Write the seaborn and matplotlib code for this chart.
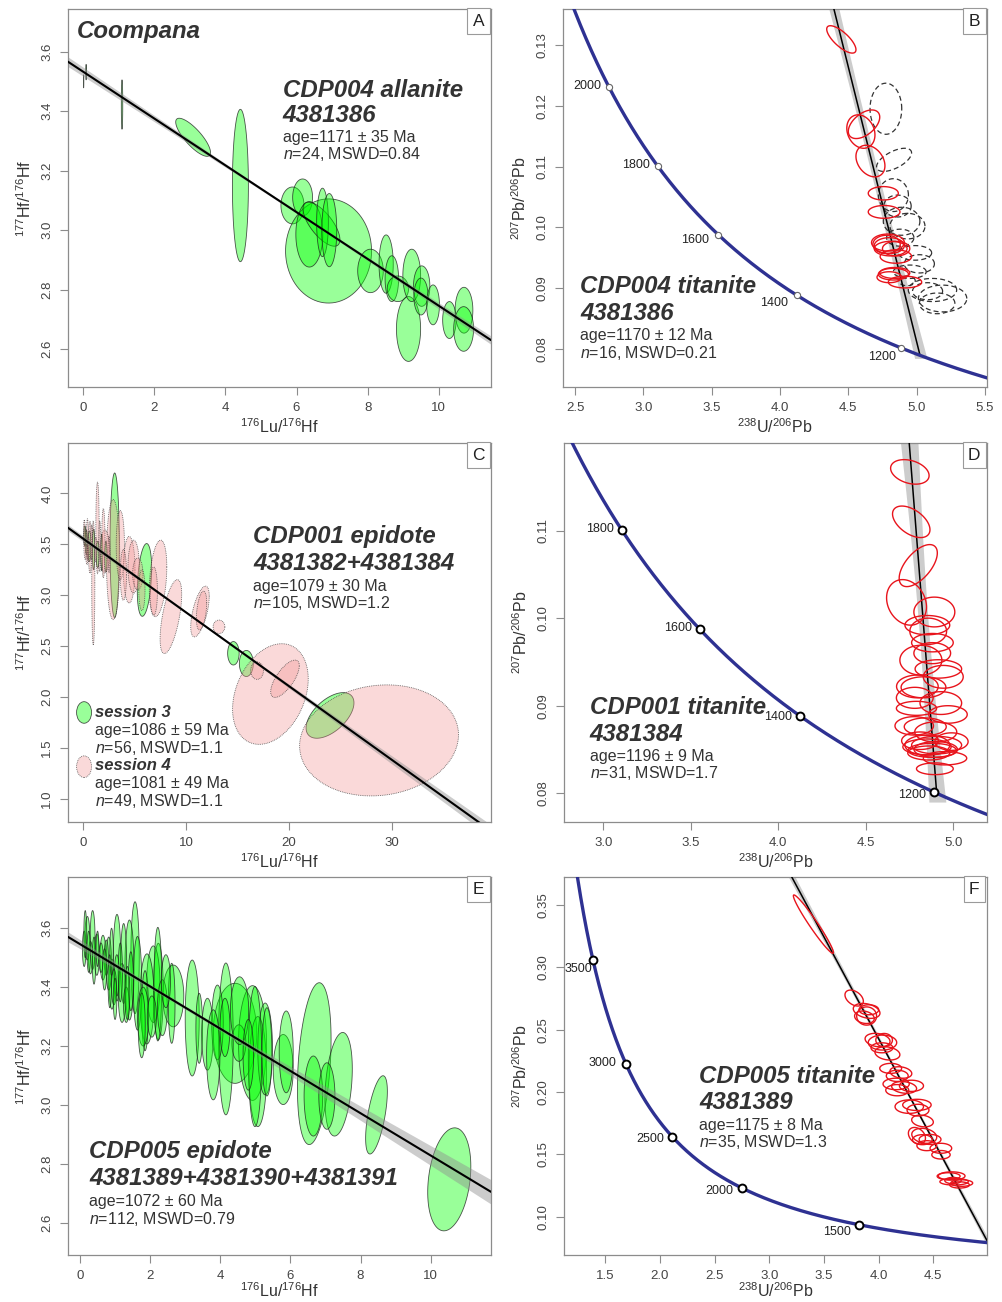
import numpy as np
import matplotlib
matplotlib.use('Agg')
import matplotlib.pyplot as plt
from matplotlib.patches import Polygon, Ellipse
from matplotlib.ticker import FormatStrFormatter
import seaborn as sns

sns.set_theme(style='white')
plt.rcParams['font.family'] = ['Liberation Sans', 'DejaVu Sans']
plt.rcParams['mathtext.fontset'] = 'custom'
plt.rcParams['mathtext.rm'] = 'Liberation Sans'
plt.rcParams['mathtext.it'] = 'Liberation Sans:italic'
plt.rcParams['mathtext.bf'] = 'Liberation Sans:bold'

# ---------------- DATA ----------------
# Panel A: CDP004 allanite Lu-Hf isochron (ellipse centre, half-width x, half-height y, correlation)
A_X = [0.08, 0.01, 1.09, 3.09, 4.42, 5.885, 6.17, 6.90, 6.36, 6.70, 6.73, 6.92,
       8.08, 8.52, 8.68, 8.85, 9.15, 9.24, 9.52, 9.50, 9.84, 10.30, 10.71, 10.70]
A_Y = [3.531, 3.500, 3.422, 3.312, 3.150, 3.083, 3.110, 2.930, 2.986, 3.020, 3.026, 3.000,
       2.863, 2.886, 2.837, 2.803, 2.668, 2.848, 2.812, 2.777, 2.749, 2.698, 2.731, 2.668]
A_SX = [0.012, 0.005, 0.02, 0.49, 0.225, 0.325, 0.28, 1.21, 0.38, 0.52, 0.165, 0.21,
        0.36, 0.20, 0.19, 0.30, 0.34, 0.25, 0.23, 0.20, 0.18, 0.19, 0.25, 0.28]
A_SY = [0.026, 0.022, 0.083, 0.064, 0.256, 0.062, 0.062, 0.175, 0.11, 0.074, 0.115, 0.123,
        0.073, 0.098, 0.077, 0.043, 0.109, 0.088, 0.068, 0.062, 0.067, 0.062, 0.077, 0.075]
A_RHO = [0, 0, 0, -0.8, 0, 0, 0, 0, 0, -0.7, 0, 0,
         0, 0, 0, 0, 0, 0, 0, 0, 0, 0, 0, 0]
A_FIT = dict(b0=3.532, b1=-0.0786, s0=0.004, s1=0.00244, xm=6.0)

# Panel B: CDP004 titanite Tera-Wasserburg
B_RX = [4.449, 4.615, 4.592, 4.662, 4.756, 4.762, 4.79, 4.80, 4.81, 4.78, 4.848, 4.83, 4.84, 4.915, 4.85, 4.80]
B_RY = [0.1309, 0.11695, 0.11575, 0.1109, 0.1056, 0.10254, 0.0975, 0.0970, 0.0965, 0.0972,
        0.0952, 0.0923, 0.0925, 0.0910, 0.0965, 0.0918]
B_RSX = [0.107, 0.115, 0.103, 0.106, 0.11, 0.116, 0.12, 0.11, 0.12, 0.10, 0.115, 0.11, 0.11, 0.122, 0.10, 0.09]
B_RSY = [0.00225, 0.00235, 0.00275, 0.0026, 0.0011, 0.00105, 0.0014, 0.0013, 0.0012, 0.0015,
         0.0011, 0.00096, 0.0009, 0.00096, 0.0012, 0.0009]
B_RRHO = [-0.75, 0.5, -0.2, -0.3, 0, 0, 0, 0, 0, 0, 0, 0, 0, 0, 0, 0]
B_DX = [4.775, 4.835, 4.83, 4.89, 4.933, 4.988, 4.88, 4.95, 5.116, 5.19, 5.15, 5.08, 4.93, 5.02, 4.86]
B_DY = [0.1195, 0.1111, 0.1053, 0.101, 0.1002, 0.0958, 0.0983, 0.0927, 0.0897, 0.0883, 0.0875, 0.0895,
        0.0912, 0.0940, 0.1035]
B_DSX = [0.116, 0.128, 0.11, 0.134, 0.128, 0.122, 0.10, 0.12, 0.177, 0.177, 0.13, 0.11, 0.06, 0.11, 0.10]
B_DSY = [0.0042, 0.0019, 0.0027, 0.0023, 0.0021, 0.0012, 0.0014, 0.0011, 0.0019, 0.0022, 0.0017, 0.0014,
         0.0008, 0.0015, 0.0018]
B_DRHO = [0, 0.6, 0, 0, 0, 0, 0, 0, 0, 0, 0, 0, 0, 0, 0]
B_FIT = dict(y0=0.533, age=1170, a=0.026, b=1.1, ym=0.112)
B_AGES = [2000, 1800, 1600, 1400, 1200]
B_LOFF = [(-8, 1), (-8, 1), (-9, -5), (-9, -8), (-5, -9)]

# Panel C: CDP001 epidote, session 3 (green) and session 4 (pink)
C3_X = [3.05, 5.95, 14.6, 15.86, 24.0, 0.3, 0.6, 1.0, 1.4, 1.8, 2.2, 0.15]
C3_Y = [3.49, 3.15, 2.43, 2.33, 1.82, 3.52, 3.48, 3.45, 3.40, 3.42, 3.38, 3.58]
C3_SX = [0.45, 0.70, 0.56, 0.68, 2.33, 0.12, 0.15, 0.12, 0.15, 0.10, 0.12, 0.10]
C3_SY = [0.71, 0.357, 0.115, 0.128, 0.224, 0.12, 0.15, 0.2, 0.13, 0.18, 0.15, 0.10]
C3_RHO = [0, 0.3, 0, 0, 0.55, 0, 0, 0, 0, 0, 0, 0]
C4_X = [28.77, 18.2, 19.62, 16.9, 13.2, 11.35, 11.5, 8.52, 7.27, 6.85, 4.46, 4.9, 5.3, 0.97, 1.38,
        2.9, 3.6, 2.1, 1.95, 0.65, 0.2, 0.4, 0.5, 0.8, 1.2, 1.6, 2.5, 3.9, 5.7, 0.1, 0.35]
C4_Y = [1.575, 2.03, 2.18, 2.26, 2.69, 2.84, 2.85, 2.79, 3.165, 3.04, 3.25, 3.28, 3.21, 3.12, 3.66,
        3.35, 3.49, 3.43, 3.51, 3.47, 3.50, 3.55, 3.45, 3.52, 3.45, 3.48, 3.40, 3.20, 3.05, 3.62, 3.40]
C4_SX = [7.73, 3.68, 1.39, 0.62, 0.57, 0.9, 0.5, 1.05, 0.85, 0.36, 0.57, 0.55, 0.5, 0.15, 0.16,
         0.65, 0.4, 0.45, 0.16, 0.16, 0.15, 0.1, 0.12, 0.1, 0.12, 0.1, 0.1, 0.3, 0.3, 0.08, 0.1]
C4_SY = [0.545, 0.494, 0.183, 0.086, 0.066, 0.249, 0.19, 0.363, 0.376, 0.237, 0.327, 0.26, 0.155, 0.61, 0.45,
         0.59, 0.34, 0.21, 0.34, 0.255, 0.15, 0.2, 0.12, 0.17, 0.12, 0.25, 0.18, 0.25, 0.2, 0.12, 0.1]
C4_RHO = [0.1, 0.3, 0.7, 0, 0, 0.6, 0.4, 0.6, 0.3, 0, 0, 0, 0, 0, 0,
          0, 0, 0, 0, 0, 0, 0, 0, 0, 0, 0, 0, 0, 0, 0, 0]
C_FIT = dict(b0=3.554, b1=-0.0723, s0=0.01, s1=0.00213, xm=12.0)

# Panel D: CDP001 titanite
D_X = [4.752, 4.76, 4.80, 4.733, 4.892, 4.852, 4.857, 4.881, 4.815, 4.915, 4.943, 4.795, 4.78, 4.929, 4.79,
       4.777, 4.90, 4.81, 4.852, 4.905, 4.90, 4.88, 4.85, 4.953, 4.895, 4.84, 4.83, 4.97, 4.86, 4.88, 4.99]
D_Y = [0.1167, 0.1110, 0.1060, 0.1018, 0.1007, 0.0992, 0.0985, 0.0972, 0.0952, 0.0942, 0.0933, 0.0922,
       0.0909, 0.0903, 0.0897, 0.0877, 0.0870, 0.0860, 0.0855, 0.0855, 0.0850, 0.0849, 0.0853, 0.0840,
       0.0828, 0.0876, 0.0921, 0.0890, 0.0846, 0.0960, 0.0859]
D_SX = [0.11, 0.107, 0.109, 0.114, 0.117, 0.128, 0.105, 0.119, 0.12, 0.133, 0.114, 0.119, 0.105, 0.119,
        0.115, 0.11, 0.12, 0.105, 0.128, 0.143, 0.124, 0.138, 0.138, 0.124, 0.105, 0.12, 0.128, 0.11,
        0.12, 0.105, 0.095]
D_SY = [0.0014, 0.0018, 0.0024, 0.0026, 0.0017, 0.0011, 0.0015, 0.00105, 0.0017, 0.00105, 0.0013,
        0.0013, 0.0012, 0.0013, 0.0008, 0.00105, 0.00115, 0.001, 0.00115, 0.001, 0.0009, 0.0008,
        0.0009, 0.00076, 0.00067, 0.001, 0.0012, 0.001, 0.0008, 0.0012, 0.001]
D_RHO = [-0.3, -0.5, 0.6, -0.2, 0, 0, 0, 0, 0, 0, 0, 0, 0, 0, 0, 0,
         0, 0, 0, 0, 0, 0, 0, 0, 0, 0, 0, 0, 0, 0, 0]
D_FIT = dict(y0=1.330, age=1196, a=0.028, b=1.97, ym=0.099)
D_AGES = [1800, 1600, 1400, 1200]
D_LOFF = [(-8, 1), (-7, 1), (-8, -1), (-7, -3)]

# Panel E: CDP005 epidote
E_X = [10.53, 8.455, 6.68, 7.375, 6.655, 7.04, 5.795, 5.88, 4.42, 4.92,
       5.07, 5.28, 5.33, 4.53, 4.16, 4.99, 3.20, 3.40, 3.635, 3.92,
       4.135, 2.66, 2.615, 2.235, 2.09, 2.22, 1.91, 1.855, 1.57, 1.41,
       1.64, 1.45, 1.245, 1.055, 1.05, 0.91, 0.82, 0.655, 0.48, 0.36,
       0.21, 0.12, 0.30, 0.60, 0.75, 1.20, 0.97, 1.80, 1.76, 2.05,
       2.35, 2.45, 1.32, 4.55, 3.80, 4.80, 0.15, 0.25, 0.40, 0.50,
       0.70, 0.85, 1.15, 1.35, 1.00, 0.90]
E_Y = [2.747, 2.966, 3.14, 3.07, 3.03, 3.03, 3.12, 3.18, 3.243, 3.21,
       3.113, 3.19, 3.18, 3.21, 3.224, 3.164, 3.295, 3.26, 3.24, 3.28,
       3.263, 3.37, 3.345, 3.385, 3.41, 3.41, 3.36, 3.32, 3.50, 3.458,
       3.413, 3.42, 3.48, 3.50, 3.44, 3.41, 3.48, 3.50, 3.51, 3.56,
       3.566, 3.53, 3.50, 3.50, 3.50, 3.38, 3.40, 3.30, 3.27, 3.30,
       3.33, 3.42, 3.34, 3.32, 3.17, 3.17, 3.58, 3.52, 3.49, 3.53,
       3.46, 3.42, 3.45, 3.38, 3.36, 3.52]
E_SX = [0.615, 0.31, 0.48, 0.39, 0.265, 0.23, 0.285, 0.20, 0.62, 0.40,
        0.25, 0.21, 0.14, 0.20, 0.21, 0.19, 0.20, 0.095, 0.165, 0.165,
        0.14, 0.30, 0.095, 0.14, 0.19, 0.11, 0.20, 0.095, 0.12, 0.13,
        0.12, 0.07, 0.085, 0.105, 0.07, 0.08, 0.08, 0.085, 0.07, 0.07,
        0.07, 0.05, 0.06, 0.06, 0.06, 0.11, 0.07, 0.16, 0.10, 0.13,
        0.14, 0.13, 0.08, 0.26, 0.19, 0.15, 0.04, 0.05, 0.05, 0.04,
        0.06, 0.05, 0.06, 0.07, 0.05, 0.05]
E_SY = [0.175, 0.133, 0.275, 0.176, 0.136, 0.113, 0.119, 0.139, 0.17, 0.195,
        0.187, 0.156, 0.15, 0.062, 0.258, 0.238, 0.197, 0.119, 0.122, 0.127,
        0.099, 0.105, 0.136, 0.164, 0.13, 0.193, 0.153, 0.136, 0.19, 0.17,
        0.159, 0.10, 0.136, 0.147, 0.07, 0.085, 0.09, 0.076, 0.07, 0.10,
        0.074, 0.06, 0.055, 0.05, 0.06, 0.10, 0.06, 0.10, 0.11, 0.07,
        0.095, 0.09, 0.06, 0.115, 0.153, 0.12, 0.08, 0.07, 0.08, 0.06,
        0.07, 0.09, 0.10, 0.09, 0.07, 0.08]
E_RHO = [0.25, 0.6, 0.3, 0.3] + [0.0] * 62
E_FIT = dict(b0=3.546, b1=-0.0718, s0=0.006, s1=0.0047, xm=3.0)

# Panel F: CDP005 titanite
F_X = [3.403, 3.776, 3.89, 3.89, 3.87, 3.99, 4.035, 4.08, 4.05, 4.11, 4.203, 4.17, 4.233, 4.28, 4.35,
       4.36, 4.401, 4.417, 4.47, 4.569, 4.57, 4.668, 4.69, 4.76, 4.68, 3.91, 4.03, 4.16, 4.35, 4.40,
       4.44, 4.64, 4.74, 4.17, 4.30]
F_Y = [0.3347, 0.2754, 0.2651, 0.2610, 0.2600, 0.2417, 0.2397, 0.2310, 0.2417, 0.2190, 0.2157, 0.2130,
       0.2037, 0.1883, 0.1897, 0.1855, 0.1768, 0.1649, 0.1620, 0.1549, 0.1497, 0.1327, 0.1281, 0.1270,
       0.1290, 0.2660, 0.2355, 0.2065, 0.1650, 0.1618, 0.1570, 0.1325, 0.1255, 0.2015, 0.2050]
F_SX = [0.183, 0.084, 0.122, 0.091, 0.09, 0.114, 0.13, 0.114, 0.076, 0.10, 0.10, 0.10, 0.114, 0.13, 0.13,
        0.10, 0.099, 0.114, 0.10, 0.099, 0.084, 0.122, 0.13, 0.10, 0.075, 0.09, 0.10, 0.12, 0.078, 0.09,
        0.09, 0.105, 0.09, 0.105, 0.11]
F_SY = [0.0234, 0.0064, 0.006, 0.0073, 0.005, 0.0054, 0.006, 0.0053, 0.0053, 0.004, 0.0046, 0.0045,
        0.0047, 0.0054, 0.0045, 0.0047, 0.0047, 0.006, 0.004, 0.004, 0.0034, 0.0033, 0.0027, 0.0026,
        0.0025, 0.004, 0.004, 0.0046, 0.0066, 0.004, 0.004, 0.0028, 0.0025, 0.0045, 0.0045]
F_RHO = [-0.97, -0.4, -0.3, 0, -0.2, -0.2, 0, -0.2, 0, 0, -0.2, 0, -0.2, 0, 0,
         0, -0.2, -0.2, 0, 0, 0, 0, 0, 0, 0, 0, 0, 0, -0.3, 0, 0, 0, 0, 0, 0]
F_FIT = dict(y0=0.896, age=1175, a=0.012, b=0.162, ym=0.20)
F_AGES = [3500, 3000, 2500, 2000, 1500]
F_LOFF = [(-1, -9), (-9, 1), (-8, -2), (-9, -3), (-8, -7)]

# decay constants for the concordia
L238, L235, U85 = 1.55125e-10, 9.8485e-10, 137.818

# ---------------- STYLE ----------------
GREEN_FC = (0.0, 1.0, 0.0, 0.40)
PINK_FC = (0.95, 0.58, 0.58, 0.35)
EDGE = (0.1, 0.1, 0.1, 0.75)
RED = '#e8141c'
NAVY = '#2e3192'
TXT = '#333333'


def tw(t_ma):
    t = np.asarray(t_ma, dtype=float) * 1e6
    e8 = np.exp(L238 * t) - 1
    e5 = np.exp(L235 * t) - 1
    return 1 / e8, e5 / e8 / U85


def ell_pts(cx, cy, sx, sy, rho, n=90):
    th = np.linspace(0, 2 * np.pi, n)
    x = cx + sx * np.cos(th)
    y = cy + sy * (rho * np.cos(th) + np.sqrt(1 - rho ** 2) * np.sin(th))
    return np.column_stack([x, y])


def draw_ellipses(ax, xs, ys, sxs, sys_, rhos, fc, ec, lw, ls='-', z=3):
    for x, y, sx, sy, r in zip(xs, ys, sxs, sys_, rhos):
        ax.add_patch(Polygon(ell_pts(x, y, sx, sy, r), closed=True, facecolor=fc,
                             edgecolor=ec, linewidth=lw, linestyle=ls, zorder=z))


def isochron(ax, fit, xlim):
    xx = np.linspace(xlim[0], xlim[1], 300)
    yy = fit['b0'] + fit['b1'] * xx
    h = np.sqrt(fit['s0'] ** 2 + (fit['s1'] * (xx - fit['xm'])) ** 2)
    ax.fill_between(xx, yy - h, yy + h, color='#8f8f8f', alpha=0.45, lw=0, zorder=5)
    sns.lineplot(x=xx, y=yy, ax=ax, color='black', lw=1.5, zorder=6, sort=False, estimator=None)


def concordia(ax, ages, loffs, ms, mec, mlw):
    tt = np.linspace(800, 4500, 2000)
    cx, cy = tw(tt)
    sns.lineplot(x=cx, y=cy, ax=ax, color=NAVY, lw=2.4, zorder=7, sort=False, estimator=None)
    mx, my = tw(ages)
    sns.scatterplot(x=mx, y=my, ax=ax, s=ms, color='white', edgecolor=mec, linewidth=mlw, zorder=8)
    for a, x, y, (dx, dy) in zip(ages, mx, my, loffs):
        ax.annotate(str(a), (x, y), xytext=(dx, dy), textcoords='offset pixels',
                    ha='right', va='center', fontsize=9, color='#222222', zorder=9)


def discordia(ax, fit, ytop, ylow_off):
    xi, yi = tw(fit['age'])
    yy = np.linspace(yi - ylow_off, ytop, 300)
    xx = xi * (fit['y0'] - yy) / (fit['y0'] - yi)
    w = np.sqrt(fit['a'] ** 2 + (fit['b'] * (yy - fit['ym'])) ** 2)
    ax.fill_betweenx(yy, xx - w, xx + w, color='#8f8f8f', alpha=0.45, lw=0, zorder=2)
    sns.lineplot(x=[float(xi), 0.0], y=[float(yi), fit['y0']], ax=ax, color='black', lw=1.1,
                 zorder=4, sort=False, estimator=None)


def style_axes(ax, xlim, ylim, xticks, yticks, xfmt, yfmt, xlabel, ylabel, letter, xpad=3):
    ax.set_xlim(xlim)
    ax.set_ylim(ylim)
    ax.set_xticks(xticks)
    ax.set_yticks(yticks)
    ax.xaxis.set_major_formatter(FormatStrFormatter(xfmt))
    ax.yaxis.set_major_formatter(FormatStrFormatter(yfmt))
    for s in ax.spines.values():
        s.set_color('#8c8c8c')
        s.set_linewidth(0.9)
        s.set_visible(True)
    ax.tick_params(axis='both', which='major', direction='out', length=5.5, width=0.8,
                   color='#8c8c8c', labelsize=9.5, labelcolor='#444444', pad=5,
                   bottom=True, left=True, top=False, right=False)
    ax.tick_params(axis='y', labelrotation=90)
    plt.setp(ax.get_yticklabels(), va='center')
    ax.set_xlabel(xlabel, fontsize=11.5, color=TXT, labelpad=xpad)
    ax.set_ylabel(ylabel, fontsize=11.5, color=TXT, labelpad=5)
    ax.grid(False)
    ax.set_facecolor('white')
    ax.text(0.970, 0.968, letter, transform=ax.transAxes, ha='center', va='center',
            fontsize=12.5, color='#222222', zorder=20,
            bbox=dict(boxstyle='square,pad=0.32', fc='white', ec='#9a9a9a', lw=0.8))


def put(ax, x, y, s, size, bi=False):
    ax.text(x, y, s, transform=ax.transAxes, fontsize=size, color=TXT,
            fontweight='bold' if bi else 'normal', fontstyle='italic' if bi else 'normal',
            ha='left', va='baseline', zorder=15)


# ---------------- FIGURE ----------------
W, H = 1003, 1302
fig = plt.figure(figsize=(W / 100, H / 100), dpi=100)
fig.patch.set_facecolor('white')


def add_ax(l, t, r, b):
    return fig.add_axes([l / W, 1 - b / H, (r - l) / W, (b - t) / H])


axA = add_ax(68, 9, 491, 387)
axB = add_ax(563, 9, 987, 387)
axC = add_ax(68, 443, 491, 822)
axD = add_ax(564, 443, 987, 822)
axE = add_ax(68, 877, 491, 1255)
axF = add_ax(564, 877, 987, 1255)

XL_HF = r'$^{176}$Lu/$^{176}$Hf'
YL_HF = r'$^{177}$Hf/$^{176}$Hf'
XL_U = r'$^{238}$U/$^{206}$Pb'
YL_U = r'$^{207}$Pb/$^{206}$Pb'
TS = 17.3
IS = 11.5

# ---- A ----
xlimA, ylimA = (-0.43, 11.47), (2.473, 3.743)
draw_ellipses(axA, A_X, A_Y, A_SX, A_SY, A_RHO, GREEN_FC, EDGE, 0.6)
isochron(axA, A_FIT, xlimA)
style_axes(axA, xlimA, ylimA, [0, 2, 4, 6, 8, 10], [2.6, 2.8, 3.0, 3.2, 3.4, 3.6], '%d', '%.1f', XL_HF, YL_HF, 'A')
put(axA, 0.021, 0.923, 'Coompana', TS, True)
put(axA, 0.508, 0.768, 'CDP004 allanite', TS, True)
put(axA, 0.508, 0.700, '4381386', TS, True)
put(axA, 0.508, 0.649, 'age=1171 ± 35 Ma', IS)
put(axA, 0.508, 0.602, r'$n$=24, MSWD=0.84', IS)

# ---- B ----
xlimB, ylimB = (2.412, 5.515), (0.07375, 0.1359)
discordia(axB, B_FIT, ylimB[1] + 0.002, 0.0005)
draw_ellipses(axB, B_DX, B_DY, B_DSX, B_DSY, B_DRHO, 'none', '#333333', 0.9, (0, (4, 2.5)), z=3)
draw_ellipses(axB, B_RX, B_RY, B_RSX, B_RSY, B_RRHO, 'none', RED, 1.0, '-', z=5)
concordia(axB, B_AGES, B_LOFF, 20, '#666666', 0.8)
style_axes(axB, xlimB, ylimB, [2.5, 3.0, 3.5, 4.0, 4.5, 5.0, 5.5], [0.08, 0.09, 0.10, 0.11, 0.12, 0.13],
           '%.1f', '%.2f', XL_U, YL_U, 'B')
put(axB, 0.040, 0.248, 'CDP004 titanite', TS, True)
put(axB, 0.040, 0.177, '4381386', TS, True)
put(axB, 0.040, 0.124, 'age=1170 ± 12 Ma', IS)
put(axB, 0.040, 0.076, r'$n$=16, MSWD=0.21', IS)

# ---- C ----
xlimC, ylimC = (-1.49, 39.66), (0.774, 4.494)
draw_ellipses(axC, C3_X, C3_Y, C3_SX, C3_SY, C3_RHO, GREEN_FC, EDGE, 0.6, '-')
draw_ellipses(axC, C4_X, C4_Y, C4_SX, C4_SY, C4_RHO, PINK_FC, (0.2, 0.2, 0.2, 0.8), 0.6, (0, (1, 1.2)))
isochron(axC, C_FIT, xlimC)
style_axes(axC, xlimC, ylimC, [0, 10, 20, 30], [1.0, 1.5, 2.0, 2.5, 3.0, 3.5, 4.0], '%d', '%.1f', XL_HF, YL_HF, 'C')
put(axC, 0.438, 0.735, 'CDP001 epidote', TS, True)
put(axC, 0.438, 0.666, '4381382+4381384', TS, True)
put(axC, 0.438, 0.610, 'age=1079 ± 30 Ma', IS)
put(axC, 0.438, 0.564, r'$n$=105, MSWD=1.2', IS)
axC.add_patch(Ellipse((0.038, 0.289), 0.0355, 0.057, transform=axC.transAxes, facecolor=GREEN_FC,
                      edgecolor=EDGE, lw=0.6, zorder=15))
axC.add_patch(Ellipse((0.038, 0.146), 0.0355, 0.057, transform=axC.transAxes, facecolor=PINK_FC,
                      edgecolor=(0.2, 0.2, 0.2, 0.8), lw=0.6, ls=(0, (1, 1.2)), zorder=15))
put(axC, 0.065, 0.278, 'session 3', IS + 0.5, True)
put(axC, 0.065, 0.230, 'age=1086 ± 59 Ma', IS)
put(axC, 0.065, 0.183, r'$n$=56, MSWD=1.1', IS)
put(axC, 0.065, 0.137, 'session 4', IS + 0.5, True)
put(axC, 0.065, 0.089, 'age=1081 ± 49 Ma', IS)
put(axC, 0.065, 0.042, r'$n$=49, MSWD=1.1', IS)

# ---- D ----
xlimD, ylimD = (2.775, 5.193), (0.07672, 0.1200)
discordia(axD, D_FIT, ylimD[1] + 0.002, 0.001)
draw_ellipses(axD, D_X, D_Y, D_SX, D_SY, D_RHO, 'none', RED, 1.0, '-', z=5)
concordia(axD, D_AGES, D_LOFF, 32, 'black', 1.4)
style_axes(axD, xlimD, ylimD, [3.0, 3.5, 4.0, 4.5, 5.0], [0.08, 0.09, 0.10, 0.11], '%.1f', '%.2f', XL_U, YL_U, 'D')
put(axD, 0.061, 0.285, 'CDP001 titanite', TS, True)
put(axD, 0.061, 0.214, '4381384', TS, True)
put(axD, 0.061, 0.162, 'age=1196 ± 9 Ma', IS)
put(axD, 0.061, 0.115, r'$n$=31, MSWD=1.7', IS)

# ---- E ----
xlimE, ylimE = (-0.342, 11.72), (2.490, 3.774)
draw_ellipses(axE, E_X, E_Y, E_SX, E_SY, E_RHO, GREEN_FC, EDGE, 0.6)
isochron(axE, E_FIT, xlimE)
style_axes(axE, xlimE, ylimE, [0, 2, 4, 6, 8, 10], [2.6, 2.8, 3.0, 3.2, 3.4, 3.6], '%d', '%.1f', XL_HF, YL_HF, 'E',
           xpad=0)
put(axE, 0.050, 0.256, 'CDP005 epidote', TS, True)
put(axE, 0.050, 0.185, '4381389+4381390+4381391', TS, True)
put(axE, 0.050, 0.130, 'age=1072 ± 60 Ma', IS)
put(axE, 0.050, 0.082, r'$n$=112, MSWD=0.79', IS)

# ---- F ----
xlimF, ylimF = (1.122, 4.991), (0.0693, 0.3725)
discordia(axF, F_FIT, ylimF[1] + 0.01, 0.002)
draw_ellipses(axF, F_X, F_Y, F_SX, F_SY, F_RHO, 'none', RED, 1.0, '-', z=5)
concordia(axF, F_AGES, F_LOFF, 32, 'black', 1.4)
style_axes(axF, xlimF, ylimF, [1.5, 2.0, 2.5, 3.0, 3.5, 4.0, 4.5], [0.10, 0.15, 0.20, 0.25, 0.30, 0.35],
           '%.1f', '%.2f', XL_U, YL_U, 'F', xpad=0)
put(axF, 0.320, 0.454, 'CDP005 titanite', TS, True)
put(axF, 0.320, 0.385, '4381389', TS, True)
put(axF, 0.320, 0.331, 'age=1175 ± 8 Ma', IS)
put(axF, 0.320, 0.285, r'$n$=35, MSWD=1.3', IS)

fig.savefig('out.png', dpi=100, facecolor='white')
